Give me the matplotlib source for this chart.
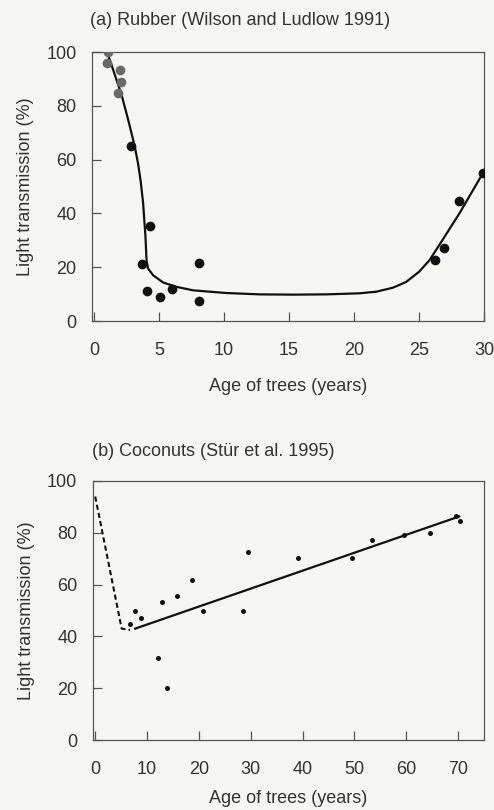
import numpy as np
import matplotlib.pyplot as plt

plt.rcParams['font.family'] = ['Liberation Sans', 'DejaVu Sans']

# (a) Rubber - observed points
rub_age = [1.10, 1.05, 2.02, 2.07, 1.82, 2.82, 3.74, 4.30, 4.07, 5.07, 6.04,
           8.09, 8.09, 26.2, 26.9, 28.1, 29.9]
rub_light = [100, 95.8, 93.3, 88.8, 84.7, 65.1, 21.1, 35.3, 11.3, 8.9, 12.0,
             21.7, 7.3, 22.6, 27.1, 44.6, 55.2]
rub_grey = 5  # first points are printed in grey

# (a) fitted curve
rub_fit_age = [1.05, 2.13, 2.64, 3.15, 3.40, 3.60, 3.79, 3.97, 4.05, 4.17,
               4.56, 5.33, 6.35, 7.63, 10.19, 12.75, 15.31, 17.87, 20.44,
               21.72, 23.0, 24.0, 25.0, 25.8, 26.8, 28.1, 29.9]
rub_fit_light = [99.6, 84.1, 74.8, 64.8, 58.5, 52.0, 43.7, 31.3, 22.6, 19.5,
                 17.0, 14.3, 12.7, 11.4, 10.4, 9.9, 9.8, 9.9, 10.3, 10.9,
                 12.4, 14.5, 18.3, 22.6, 30.1, 40.0, 54.9]

# (b) Coconuts - observed points
coc_age = [6.7, 7.7, 8.8, 12.1, 12.8, 13.9, 15.8, 18.7, 20.7, 28.5, 29.4,
           39.2, 49.5, 53.4, 59.5, 64.6, 69.5, 70.4]
coc_light = [44.7, 49.9, 47.1, 31.7, 53.2, 20.0, 55.7, 61.7, 49.9, 49.9,
             72.5, 70.1, 70.1, 77.2, 79.1, 79.8, 86.4, 84.6]

# (b) fitted lines
coc_dash_age = [0, 5.1, 6.7]
coc_dash_light = [94, 43, 42.5]
coc_line_age = [7.7, 70.2]
coc_line_light = [43.0, 86.3]

txt = '#333333'
bg = '#f6f6f4'
fs = 13

fig = plt.figure(figsize=(4.94, 8.10), dpi=100, facecolor=bg)
ax1 = fig.add_axes([0.186, 0.6037, 0.794, 0.3321])
ax2 = fig.add_axes([0.1875, 0.0864, 0.7925, 0.3198])


def style(ax, xpad):
    ax.set_facecolor(bg)
    for s in ax.spines.values():
        s.set_color('#555555')
        s.set_linewidth(0.9)
    ax.tick_params(direction='in', length=6.5, width=0.9, color='#555555',
                   labelsize=fs, labelcolor=txt)
    ax.tick_params(axis='x', pad=15)
    ax.tick_params(axis='y', pad=11)
    ax.set_ylim(0, 100)
    ax.set_yticks(range(0, 101, 20))
    ax.set_ylabel('Light transmission (%)', fontsize=fs, color=txt, labelpad=9)
    ax.set_xlabel('Age of trees (years)', fontsize=fs, color=txt, labelpad=xpad)


style(ax1, 14)
ax1.plot(rub_fit_age, rub_fit_light, color='#111111', lw=1.6, zorder=2)
ax1.plot(rub_age[:rub_grey], rub_light[:rub_grey], 'o', color='#6a6a6a',
         ms=7, mec='none', zorder=3)
ax1.plot(rub_age[rub_grey:], rub_light[rub_grey:], 'o', color='#111111',
         ms=7, mec='none', zorder=3)
ax1.set_xlim(-0.15, 30)
ax1.set_xticks(range(0, 31, 5))
fig.text(0.182, 0.975, '(a) Rubber (Wilson and Ludlow 1991)', fontsize=fs,
         color=txt, ha='left', va='center')

style(ax2, 9)
ax2.plot(coc_dash_age, coc_dash_light, color='#111111', lw=1.5, ls=(0, (2.5, 1.5)))
ax2.plot(coc_line_age, coc_line_light, color='#111111', lw=1.6)
ax2.plot(coc_age, coc_light, 'o', color='#111111', ms=3.6, mec='none')
ax2.set_xlim(-0.5, 75)
ax2.set_xticks(range(0, 71, 10))
fig.text(0.186, 0.442, '(b) Coconuts (St\u00fcr et al. 1995)', fontsize=fs,
         color=txt, ha='left', va='center')

fig.savefig('out.png', dpi=100, facecolor=bg)
